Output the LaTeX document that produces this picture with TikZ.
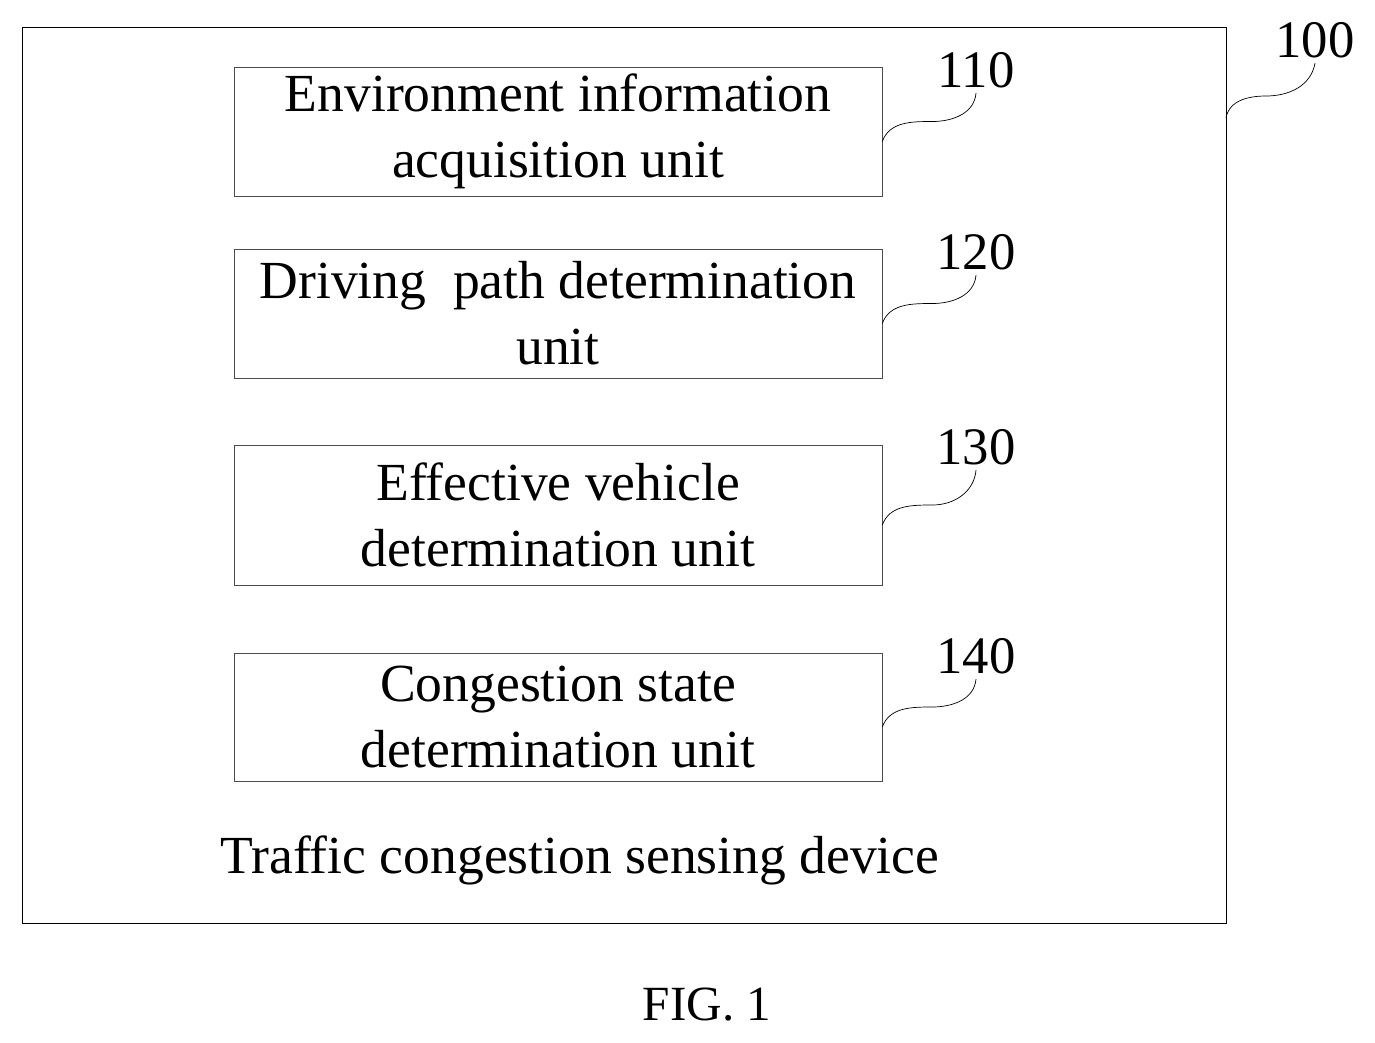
\documentclass[tikz,border=0pt]{standalone}
\usepackage{fontspec}
\setmainfont{Liberation Serif}
\usetikzlibrary{positioning}
\tikzset{
  unit/.style={draw=black!70,thin,minimum width=12.96cm,align=center,inner sep=0pt,
    font=\fontsize{30.5}{37.5}\selectfont},
  num/.style={font=\fontsize{30}{34}\selectfont,inner sep=0pt},
  squig/.style={thin}
}
\begin{document}
\begin{tikzpicture}[x=0.02cm,y=-0.02cm]
  \useasboundingbox (0,0) rectangle (1375,1042);
  \draw[thin] (22,27) rectangle (1226,923);

  \node [unit,minimum height=2.58cm] (acq) at (558,131.5) {Environment information\\acquisition unit};
  \node [unit,minimum height=2.58cm] (path) at (558,313.5) {Driving\ \ path determination\\unit};
  \node [unit,minimum height=2.8cm] (veh) at (558,515) {Effective vehicle\\determination unit};
  \node [unit,minimum height=2.56cm] (cong) at (558,717) {Congestion state\\determination unit};

  \node [num] (n110) at (976,70) {110};
  \node [num] (n120) at (976,252) {120};
  \node [num] (n130) at (976,447) {130};
  \node [num] (n140) at (976,656) {140};
  \node [num] (n100) at (1315,40) {100};

  % leader squiggles
  \foreach \b/\n in {acq/n110,path/n120,veh/n130,cong/n140}{
    \draw [squig] ([yshift=-0.2cm]\b.east) to[out=70,in=180] ++(50,-20)
      to[out=0,in=-95] ([yshift=-0.1cm]\n.south);
  }
  \coordinate (edge) at (1226,118);
  \draw [squig] (edge) to[out=80,in=180] ++(40,-22) to[out=0,in=-100] ([yshift=-0.1cm]n100.south);

  \node [font=\fontsize{30.5}{34}\selectfont] (title) at (580,860) {Traffic congestion sensing device};
  \node [font=\fontsize{28}{32}\selectfont] (fig) at (707,1005) {FIG. 1};
\end{tikzpicture}
\end{document}
